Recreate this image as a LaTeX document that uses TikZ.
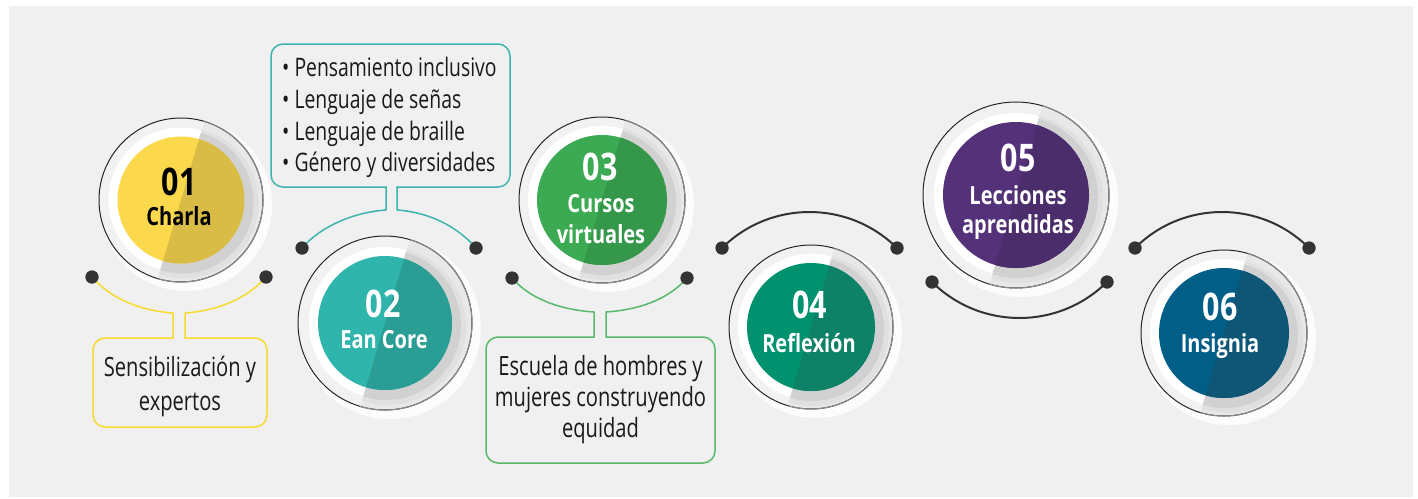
\documentclass[tikz,border=0pt]{standalone}
\usepackage{fontspec}
\setmainfont[FakeStretch=0.8]{Open Sans}
\newfontfamily\regfont[FakeStretch=0.76]{Open Sans}
\usetikzlibrary{calc}
\definecolor{bg}{HTML}{F0F0F0}
\definecolor{dotc}{HTML}{333333}
\definecolor{yelB}{HTML}{F6DB2E}
\definecolor{tealB}{HTML}{3DB5AD}
\definecolor{grnB}{HTML}{57B96A}
\definecolor{txt}{HTML}{1A1A1A}
\definecolor{c1a}{HTML}{FCD94C}\definecolor{c1b}{HTML}{D9BC46}
\definecolor{c2a}{HTML}{2FB5AB}\definecolor{c2b}{HTML}{2A9E95}
\definecolor{c3a}{HTML}{3BAA52}\definecolor{c3b}{HTML}{349749}
\definecolor{c4a}{HTML}{00926F}\definecolor{c4b}{HTML}{0E8267}
\definecolor{c5a}{HTML}{55317A}\definecolor{c5b}{HTML}{4A2D6A}
\definecolor{c6a}{HTML}{005E87}\definecolor{c6b}{HTML}{0F5575}
\tikzset{
  halfright/.style={shift={(#1)}, rotate=-16.5},
  numt/.style={anchor=base, inner sep=0pt, font=\bfseries\fontsize{38}{38}\selectfont},
  labt/.style={anchor=base, inner sep=0pt, font=\bfseries\fontsize{25}{25}\selectfont},
  boxt/.style={anchor=base, inner sep=0pt, text=txt, font=\regfont\fontsize{26.5}{26.5}\selectfont},
  bult/.style={anchor=base west, inner sep=0pt, text=txt, font=\regfont\fontsize{25.5}{25.5}\selectfont},
  callout/.style={line width=1.5pt, line cap=round, line join=round},
  boxline/.style={line width=1.5pt, rounded corners=12pt, line cap=round},
  darkarc/.style={dotc, line width=2pt},
  dotn/.style={circle, fill=dotc, inner sep=0pt, minimum size=13pt},
}
% #1 name, #2 x, #3 y, #4 R, #5 r, #6 light, #7 dark
\newcommand{\drawdisc}[7]{%
  \coordinate (#1) at (#2,#3);
  \fill[white, opacity=0.85] ($(#1)+(5,5)$) circle[radius=#4+4];
  \fill[black!5] (#1) circle[radius=#4];
  \begin{scope}
    \clip (#1) circle[radius=#4];
    \fill[black!9, halfright=#1] (0,-300) rectangle (300,300);
  \end{scope}
  \fill[white] (#1) circle[radius=#5+9];
  \begin{scope}
    \clip[halfright=#1] (0,-300) rectangle (300,300);
    \fill[black!12] ($(#1)+(2,3)$) circle[radius=#5+12];
    \fill[black!18] ($(#1)+(1,2)$) circle[radius=#5+8];
  \end{scope}
  \begin{scope}
    \clip (#1) circle[radius=#5];
    \fill[#6] (#1) circle[radius=#5];
    \fill[#7, halfright=#1] (0,-300) rectangle (300,300);
  \end{scope}
  \draw[black!85, line width=1pt] (#1) circle[radius=#4];
  \begin{scope}
    \clip[halfright=#1] (0,-300) rectangle (300,300);
    \draw[black!45, line width=1pt] (#1) circle[radius=#4];
  \end{scope}
}
\begin{document}
\begin{tikzpicture}[x=1pt, y=-1pt]
\useasboundingbox (0,0) rectangle (1418,498);
\fill[white] (0,0) rectangle (1418,498);
\fill[bg] (9,6) rectangle (1413,497);

% ---------- discs ----------
\drawdisc{c1}{181}{200}{82}{63.5}{c1a}{c1b}
\drawdisc{c2}{385}{323}{87}{67}{c2a}{c2b}
\drawdisc{c3}{602}{200}{83}{65}{c3a}{c3b}
\drawdisc{c4}{811}{327}{82}{64}{c4a}{c4b}
\drawdisc{c5}{1016}{195}{93}{73}{c5a}{c5b}
\drawdisc{c6}{1224}{333}{83}{65}{c6a}{c6b}

% ---------- coordinates ----------
\coordinate (s1l) at (173,313); \coordinate (b1l) at (173,338);
\coordinate (s1r) at (185,313); \coordinate (b1r) at (185,338);
\coordinate (s2l) at (386,210); \coordinate (b2l) at (386,187);
\coordinate (s2r) at (397,210); \coordinate (b2r) at (397,187);
\coordinate (s3l) at (594,312); \coordinate (b3l) at (594,337);
\coordinate (s3r) at (606,312); \coordinate (b3r) at (606,337);

\node[dotn] (d1l) at (92,277) {};  \node[dotn] (d1r) at (266,277) {};
\node[dotn] (d2l) at (302,248) {}; \node[dotn] (d2r) at (476,248) {};
\node[dotn] (d3l) at (512,278) {}; \node[dotn] (d3r) at (687,278) {};
\node[dotn] (d4l) at (722,248) {}; \node[dotn] (d4r) at (897,248) {};
\node[dotn] (d5l) at (932,282) {}; \node[dotn] (d5r) at (1107,282) {};
\node[dotn] (d6l) at (1135,248) {}; \node[dotn] (d6r) at (1309,248) {};

% ---------- callouts ----------
\draw[callout, yelB] (d1l.center) .. controls +(20,23) and +(-30,-2) .. (s1l) -- (b1l);
\draw[callout, yelB] (d1r.center) .. controls +(-20,23) and +(30,-2) .. (s1r) -- (b1r);
\draw[boxline, yelB] (b1l) -- (93,338) -- (93,427) -- (267,427) -- (267,338) -- (b1r);

\draw[callout, tealB] (d2l.center) .. controls +(20,-23) and +(-30,2) .. (s2l) -- (b2l);
\draw[callout, tealB] (d2r.center) .. controls +(-20,-23) and +(30,2) .. (s2r) -- (b2r);
\draw[boxline, tealB] (b2l) -- (271,187) -- (271,44) -- (510,44) -- (510,187) -- (b2r);

\draw[callout, grnB] (d3l.center) .. controls +(20,23) and +(-30,-2) .. (s3l) -- (b3l);
\draw[callout, grnB] (d3r.center) .. controls +(-20,23) and +(30,-2) .. (s3r) -- (b3r);
\draw[boxline, grnB] (b3l) -- (486,337) -- (486,463) -- (715,463) -- (715,337) -- (b3r);

\draw[darkarc] (d4l.center) .. controls +(48.5,-48) and +(-48.5,-48) .. (d4r.center);
\draw[darkarc] (d5l.center) .. controls +(48.5,48) and +(-48.5,48) .. (d5r.center);
\draw[darkarc] (d6l.center) .. controls +(48,-48) and +(-48,-48) .. (d6r.center);

% redraw dots on top
\foreach \d in {d1l,d1r,d2l,d2r,d3l,d3r,d4l,d4r,d5l,d5r,d6l,d6r}
  \fill[dotc] (\d.center) circle[radius=6.5];

% ---------- disc texts ----------
\node[numt, text=black] (n1) at (179,195) {01};
\node[labt, text=black] (l1) at (179,225) {Charla};
\node[numt, text=white] (n2) at (383,317) {02};
\node[labt, text=white] (l2) at (384,348) {Ean Core};
\node[numt, text=white] (n3) at (600,180) {03};
\node[labt, text=white] (l3a) at (601,212) {Cursos};
\node[labt, text=white] (l3b) at (601,243) {virtuales};
\node[numt, text=white] (n4) at (809.5,318) {04};
\node[labt, text=white] (l4) at (809,352) {Reflexión};
\node[numt, text=white] (n5) at (1018,171) {05};
\node[labt, text=white] (l5a) at (1018,204) {Lecciones};
\node[labt, text=white] (l5b) at (1018,233) {aprendidas};
\node[numt, text=white] (n6) at (1220,320) {06};
\node[labt, text=white] (l6) at (1220,352) {Insignia};

% ---------- box texts ----------
\node[boxt] (t1a) at (180,376) {Sensibilización y};
\node[boxt] (t1b) at (180,410) {expertos};

\node[bult] (t2a) at (282,76) {• Pensamiento inclusivo};
\node[bult] (t2b) at (282,108) {• Lenguaje de señas};
\node[bult] (t2c) at (282,140) {• Lenguaje de braille};
\node[bult] (t2d) at (282,171) {• Género y diversidades};

\node[boxt] (t3a) at (600.5,375) {Escuela de hombres y};
\node[boxt] (t3b) at (600.5,406) {mujeres construyendo};
\node[boxt] (t3c) at (600.5,437) {equidad};
\end{tikzpicture}
\end{document}
